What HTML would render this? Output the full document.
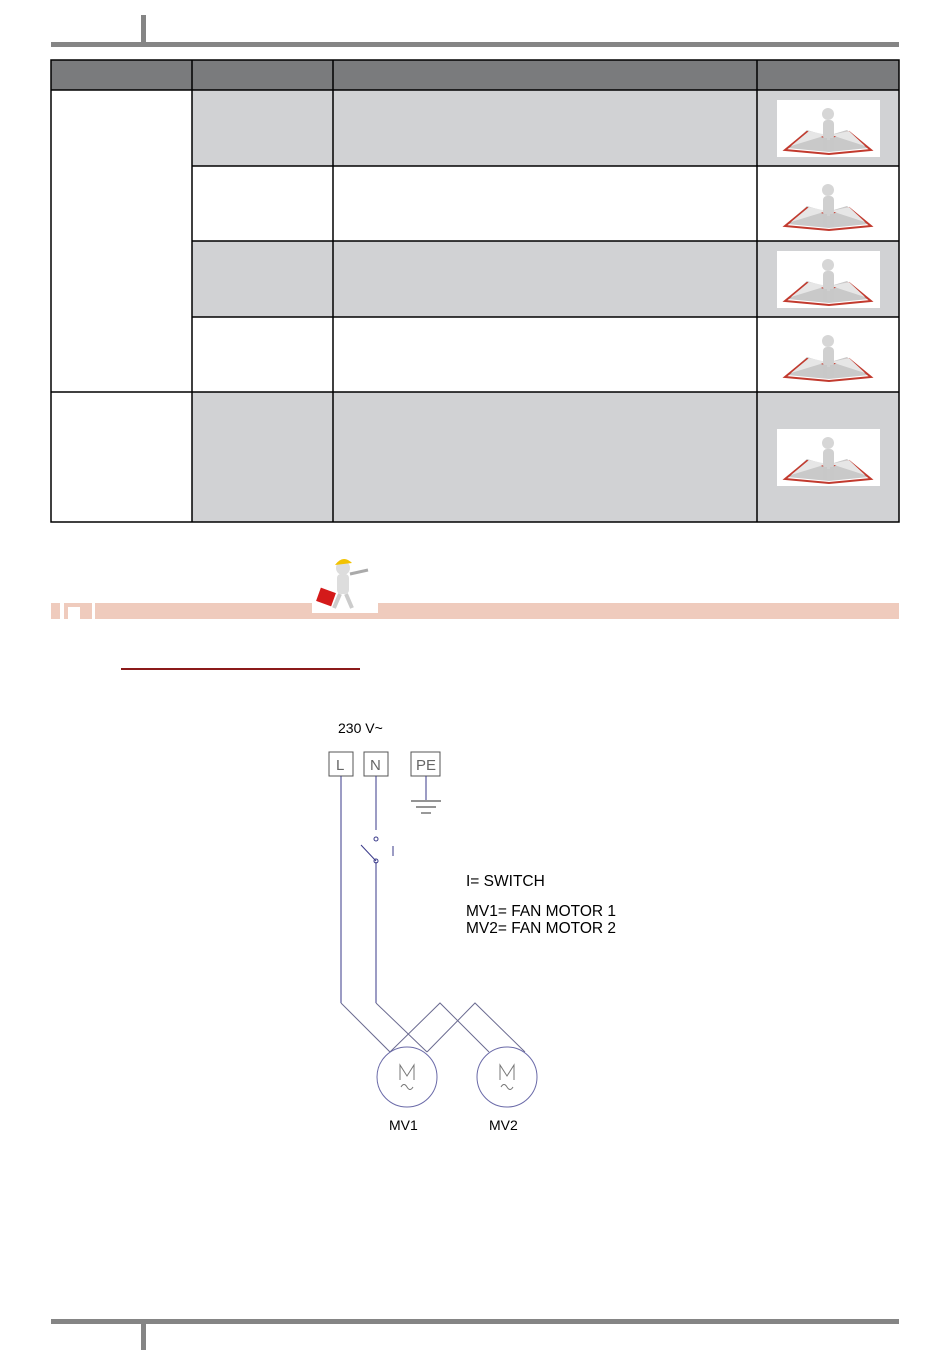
<!DOCTYPE html>
<html><head><meta charset="utf-8"><style>
html,body{margin:0;padding:0;background:#fff;}
svg{display:block;font-family:"Liberation Sans",Arial,sans-serif;}
</style></head><body>
<svg width="950" height="1360" viewBox="0 0 950 1360" xmlns="http://www.w3.org/2000/svg">
<defs>
<g id="book">
<rect x="0" y="0" width="103" height="57" fill="#fff"/>
<path d="M10 48 L30 30 L50 36 L70 30 L92 48 L52 52 Z" fill="#c9c9c9"/>
<path d="M8 50 L30 32 L51 38 L72 32 L94 50 L52 54 Z" fill="none" stroke="#c23a2e" stroke-width="2"/>
<path d="M14 46 L32 31 L50 35 Z M54 35 L72 31 L88 46 Z" fill="#e6e6e6"/>
<circle cx="51" cy="14" r="6" fill="#d6d6d6"/>
<rect x="46" y="20" width="11" height="20" rx="4" fill="#d0d0d0"/>
<rect x="46" y="38" width="4" height="13" fill="#c8c8c8"/>
<rect x="53" y="38" width="4" height="13" fill="#c8c8c8"/>
</g>
</defs>
<rect x="51" y="42" width="848" height="5" fill="#858585"/>
<rect x="141" y="15" width="5" height="30" fill="#858585"/>
<rect x="51" y="1319" width="848" height="5" fill="#858585"/>
<rect x="141" y="1322" width="5" height="28" fill="#858585"/>
<rect x="51" y="60" width="848" height="30" fill="#7a7b7d"/>
<rect x="192" y="90" width="707" height="76" fill="#d1d2d4"/>
<rect x="192" y="241" width="707" height="76" fill="#d1d2d4"/>
<rect x="192" y="392" width="707" height="130" fill="#d1d2d4"/>
<g stroke="#000" stroke-width="1.5" fill="none">
<rect x="51" y="60" width="848" height="462"/>
<line x1="51" y1="90" x2="899" y2="90"/>
<line x1="192" y1="166" x2="899" y2="166"/>
<line x1="192" y1="241" x2="899" y2="241"/>
<line x1="192" y1="317" x2="899" y2="317"/>
<line x1="51" y1="392" x2="899" y2="392"/>
<line x1="192" y1="60" x2="192" y2="522"/>
<line x1="333" y1="60" x2="333" y2="522"/>
<line x1="757" y1="60" x2="757" y2="522"/>
</g>
<use href="#book" x="777" y="100"/>
<use href="#book" x="777" y="176"/>
<use href="#book" x="777" y="251"/>
<use href="#book" x="777" y="327"/>
<use href="#book" x="777" y="429"/>
<rect x="51" y="603" width="848" height="16" fill="#efcbbd"/>
<rect x="60" y="603" width="4" height="16" fill="#fff"/>
<rect x="68" y="607" width="12" height="12" fill="#fff"/>
<rect x="92" y="603" width="3" height="16" fill="#fff"/>
<rect x="312" y="553" width="66" height="60" fill="#fff"/>
<circle cx="343" cy="568" r="7" fill="#ddd"/>
<path d="M335 565 Q343 554 352 563 Z" fill="#f2c200"/>
<rect x="337" y="574" width="12" height="20" rx="4" fill="#ddd"/>
<path d="M340 594 L334 608 M346 594 L352 608" stroke="#ccc" stroke-width="4"/>
<rect x="318" y="590" width="16" height="14" fill="#d41a1a" transform="rotate(20 326 597)"/>
<path d="M350 574 L368 570" stroke="#aaa" stroke-width="3"/>
<rect x="121" y="668" width="239" height="2" fill="#8b1a1a"/>
<g font-size="14" fill="#000">
<text x="338" y="733">230 V~</text>
<text x="389" y="1130">MV1</text>
<text x="489" y="1130">MV2</text>
</g>
<g font-size="15.5" fill="#000">
<text x="466" y="886">I= SWITCH</text>
<text x="466" y="916">MV1= FAN MOTOR 1</text>
<text x="466" y="933">MV2= FAN MOTOR 2</text>
</g>
<g stroke="#555" stroke-width="1" fill="none">
<rect x="329" y="752" width="24" height="24"/>
<rect x="364" y="752" width="24" height="24"/>
<rect x="411" y="752" width="29" height="24"/>
</g>
<g font-size="15" fill="#666">
<text x="336" y="770">L</text>
<text x="370" y="770">N</text>
<text x="416" y="770">PE</text>
</g>
<g stroke="#3a3a8a" stroke-width="1" fill="none">
<path d="M341 776 V1003"/>
<path d="M376 776 V830 M376 862 V1003"/>
<path d="M426 776 V800"/>
<path d="M361 845 L376 861"/>
<circle cx="376" cy="839" r="2"/>
<circle cx="376" cy="861" r="2"/>
<line x1="393" y1="846" x2="393" y2="856"/>
</g>
<g stroke="#6a6a90" stroke-width="1" fill="none">
<path d="M341 1003 L390 1052"/>
<path d="M376 1003 L427 1052"/>
<path d="M390 1052 L440 1003 L489 1052"/>
<path d="M427 1052 L475 1003 L525 1052"/>
</g>
<g stroke="#555" stroke-width="1.2">
<line x1="411" y1="801" x2="441" y2="801"/>
<line x1="416" y1="807" x2="436" y2="807"/>
<line x1="421" y1="813" x2="431" y2="813"/>
</g>
<g stroke="#6a6aa8" stroke-width="1" fill="none">
<circle cx="407" cy="1077" r="30"/>
<circle cx="507" cy="1077" r="30"/>
</g>
<g stroke="#777" stroke-width="1" fill="none">
<path d="M400 1080 V1065 L407 1076 L414 1065 V1080"/>
<path d="M401 1087 Q404 1082 407 1087 Q410 1092 413 1087"/>
<path d="M500 1080 V1065 L507 1076 L514 1065 V1080"/>
<path d="M501 1087 Q504 1082 507 1087 Q510 1092 513 1087"/>
</g>
</svg>
</body></html>
